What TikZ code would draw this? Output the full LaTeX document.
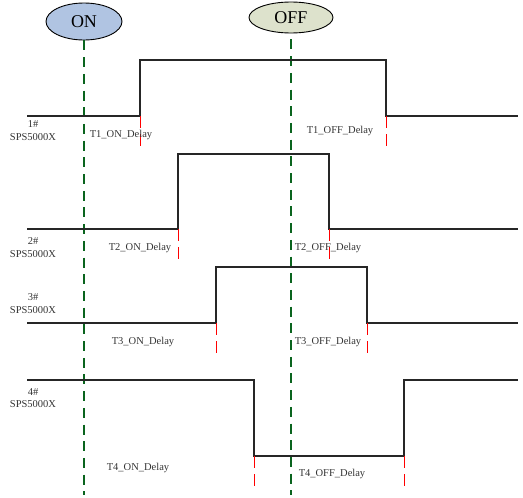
\documentclass[tikz,border=0pt]{standalone}
\usepackage{fontspec}
\setmainfont{Liberation Serif}
\usetikzlibrary{shapes.geometric}
\definecolor{onblue}{RGB}{176,196,226}
\definecolor{offgreen}{RGB}{221,226,204}
\definecolor{guidegreen}{RGB}{10,100,30}
\tikzset{
  sig/.style={line width=1.3pt, black!85},
  tick/.style={red, line width=1pt, dash pattern=on 12pt off 6pt},
  guide/.style={guidegreen, line width=1.3pt, dash pattern=on 10pt off 6.7pt},
  state/.style={ellipse, draw, line width=0.9pt, inner sep=0pt, font=\fontsize{18}{20}\selectfont},
  lbl/.style={font=\fontsize{10.5}{12}\selectfont, text=black!80, inner sep=0pt}
}
\begin{document}
\begin{tikzpicture}[x=1pt,y=-1pt]
    \useasboundingbox (0,0) rectangle (523,498);
    % ON / OFF markers
    \node [state, fill=onblue, minimum width=76pt, minimum height=37pt] (on) at (84,21.5) {ON};
    \node [state, fill=offgreen, minimum width=84pt, minimum height=31pt] (off) at (291,17.5) {OFF};
    \coordinate (onend) at (84,495);
    \coordinate (offend) at (291,495);
    \draw [guide] (on.south) -- (onend);
    \draw [guide] ([yshift=-6pt]off.south) -- (offend);
    % signals 1..3
    \foreach \lo/\hi/\a/\b in {116/60/140/386, 229/154/178/329, 323/267/216/367}
    {
    \draw [sig] (27,\lo) -- (\a,\lo) -- (\a,\hi) -- (\b,\hi) -- (\b,\lo) -- (518,\lo);
    \draw [tick] (\a,\lo) -- (\a,\lo+30);
    \draw [tick] (\b,\lo) -- (\b,\lo+30);
    }
    % signal 4
    \draw [sig] (27,380) -- (254,380) -- (254,456) -- (404,456) -- (404,380) -- (518,380);
    \foreach \x in {254,404}
    \draw [tick] (\x,456) -- (\x,487);
    % labels
    \draw (33,124) node [lbl] {1\#};
    \draw (33,137) node [lbl] {SPS5000X};
    \draw (121,135) node [lbl] {T1\_ON\_Delay};
    \draw (340,131) node [lbl] {T1\_OFF\_Delay};
    \draw (33,241) node [lbl] {2\#};
    \draw (33,254) node [lbl] {SPS5000X};
    \draw (140,248) node [lbl] {T2\_ON\_Delay};
    \draw (328,248) node [lbl] {T2\_OFF\_Delay};
    \draw (33,297) node [lbl] {3\#};
    \draw (33,310) node [lbl] {SPS5000X};
    \draw (143,342) node [lbl] {T3\_ON\_Delay};
    \draw (328,342) node [lbl] {T3\_OFF\_Delay};
    \draw (33,392) node [lbl] {4\#};
    \draw (33,404) node [lbl] {SPS5000X};
    \draw (138,468) node [lbl] {T4\_ON\_Delay};
    \draw (332,474) node [lbl] {T4\_OFF\_Delay};
\end{tikzpicture}
\end{document}
